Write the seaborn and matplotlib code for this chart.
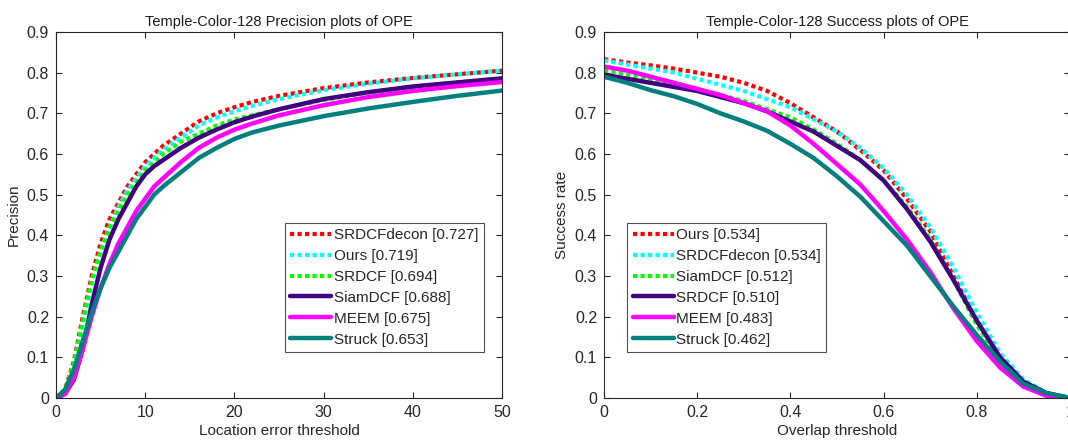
import numpy as np
import pandas as pd
import matplotlib
matplotlib.use("Agg")
import matplotlib.pyplot as plt
import seaborn as sns

# Precision plot (location error threshold, pixels)
prec_x = [0, 1, 2, 3, 4, 5, 6, 7, 8, 9, 10, 11, 12, 14, 16, 18, 20, 22, 25, 30, 35, 40, 45, 50]
prec_srdcfdecon = [0, 0.02, 0.09, 0.20, 0.30, 0.38, 0.44, 0.48, 0.52, 0.55, 0.58, 0.60, 0.62, 0.65, 0.68, 0.70, 0.715, 0.728, 0.743, 0.762, 0.776, 0.787, 0.796, 0.805]
prec_ours = [0, 0.02, 0.08, 0.18, 0.28, 0.36, 0.42, 0.47, 0.51, 0.54, 0.57, 0.59, 0.61, 0.64, 0.67, 0.69, 0.705, 0.718, 0.735, 0.757, 0.773, 0.786, 0.796, 0.805]
prec_srdcf = [0, 0.02, 0.085, 0.19, 0.29, 0.36, 0.42, 0.46, 0.50, 0.53, 0.56, 0.58, 0.60, 0.63, 0.65, 0.67, 0.685, 0.695, 0.71, 0.733, 0.751, 0.765, 0.776, 0.786]
prec_siamdcf = [0, 0.01, 0.045, 0.12, 0.23, 0.32, 0.39, 0.44, 0.48, 0.52, 0.55, 0.57, 0.585, 0.615, 0.64, 0.66, 0.678, 0.692, 0.71, 0.735, 0.752, 0.766, 0.776, 0.786]
prec_meem = [0, 0.01, 0.05, 0.12, 0.20, 0.27, 0.33, 0.38, 0.42, 0.46, 0.49, 0.52, 0.54, 0.58, 0.615, 0.64, 0.66, 0.675, 0.695, 0.72, 0.74, 0.755, 0.767, 0.777]
prec_struck = [0, 0.02, 0.07, 0.14, 0.21, 0.27, 0.32, 0.36, 0.40, 0.44, 0.47, 0.50, 0.52, 0.555, 0.59, 0.615, 0.637, 0.653, 0.67, 0.693, 0.712, 0.728, 0.743, 0.756]

# Success plot (overlap threshold)
succ_x = [0, 0.05, 0.1, 0.15, 0.2, 0.25, 0.3, 0.35, 0.4, 0.45, 0.5, 0.55, 0.6, 0.65, 0.7, 0.75, 0.8, 0.85, 0.9, 0.95, 1.0]
succ_ours = [0.833, 0.825, 0.818, 0.81, 0.80, 0.79, 0.775, 0.755, 0.725, 0.69, 0.655, 0.61, 0.56, 0.49, 0.41, 0.30, 0.19, 0.10, 0.04, 0.01, 0]
succ_srdcfdecon = [0.83, 0.82, 0.81, 0.80, 0.785, 0.77, 0.755, 0.735, 0.715, 0.685, 0.655, 0.615, 0.565, 0.50, 0.42, 0.32, 0.21, 0.11, 0.045, 0.012, 0]
succ_siamdcf = [0.805, 0.795, 0.785, 0.775, 0.76, 0.745, 0.73, 0.71, 0.69, 0.66, 0.625, 0.585, 0.535, 0.47, 0.39, 0.29, 0.18, 0.095, 0.038, 0.01, 0]
succ_srdcf = [0.795, 0.785, 0.775, 0.765, 0.755, 0.74, 0.725, 0.705, 0.68, 0.655, 0.62, 0.585, 0.535, 0.465, 0.385, 0.29, 0.19, 0.10, 0.04, 0.012, 0]
succ_meem = [0.815, 0.805, 0.79, 0.775, 0.76, 0.745, 0.725, 0.705, 0.67, 0.625, 0.575, 0.525, 0.46, 0.39, 0.31, 0.22, 0.14, 0.075, 0.028, 0.005, 0]
succ_struck = [0.79, 0.775, 0.757, 0.742, 0.723, 0.70, 0.68, 0.657, 0.625, 0.59, 0.545, 0.495, 0.435, 0.375, 0.30, 0.225, 0.155, 0.09, 0.035, 0.012, 0]

colors = {
    "red": "#ff0000", "cyan": "#00ffff", "green": "#00ff00",
    "purple": "#40007f", "magenta": "#ff00ff", "teal": "#007f7f",
}

left_series = [
    ("SRDCFdecon [0.727]", prec_srdcfdecon, "red", True),
    ("Ours [0.719]", prec_ours, "cyan", True),
    ("SRDCF [0.694]", prec_srdcf, "green", True),
    ("SiamDCF [0.688]", prec_siamdcf, "purple", False),
    ("MEEM [0.675]", prec_meem, "magenta", False),
    ("Struck [0.653]", prec_struck, "teal", False),
]
right_series = [
    ("Ours [0.534]", succ_ours, "red", True),
    ("SRDCFdecon [0.534]", succ_srdcfdecon, "cyan", True),
    ("SiamDCF [0.512]", succ_siamdcf, "green", True),
    ("SRDCF [0.510]", succ_srdcf, "purple", False),
    ("MEEM [0.483]", succ_meem, "magenta", False),
    ("Struck [0.462]", succ_struck, "teal", False),
]

sns.set_style("white")
plt.rcParams["font.family"] = ["Liberation Sans", "DejaVu Sans"]

W, H = 1068, 441
fig = plt.figure(figsize=(W / 100, H / 100), dpi=100)
ax1 = fig.add_axes([56 / W, 43 / H, 446 / W, 366 / H])
ax2 = fig.add_axes([604 / W, 43 / H, 466 / W, 366 / H])


def draw(ax, x, series, title, xlabel, ylabel, xticks, xlabels, legend_x):
    for label, y, c, dotted in series:
        sns.lineplot(x=x, y=y, ax=ax, color=colors[c], label=label,
                     linewidth=3 if dotted else 3.2,
                     linestyle=(0, (1, 0.8)) if dotted else "-")
    ax.set_xlim(x[0], x[-1])
    ax.set_ylim(0, 0.9)
    ax.set_xticks(xticks)
    ax.set_xticklabels(xlabels)
    ax.set_yticks(np.arange(0, 0.91, 0.1))
    ax.set_yticklabels(["0"] + [f"{v:.1f}" for v in np.arange(0.1, 0.91, 0.1)])
    ax.tick_params(direction="in", length=4, width=0.8, color="#262626",
                   labelsize=11.5, labelcolor="#262626", top=True, right=True,
                   bottom=True, left=True, pad=5)
    for s in ax.spines.values():
        s.set_color("#262626")
        s.set_linewidth(0.8)
    ax.set_title(title, fontsize=10.5, color="#1a1a1a", pad=4)
    ax.set_xlabel(xlabel, fontsize=11, color="#262626", labelpad=3)
    ax.set_ylabel(ylabel, fontsize=11, color="#262626", labelpad=4)
    leg = ax.legend(loc="lower left", bbox_to_anchor=(legend_x, 0.126),
                    fontsize=11, handlelength=2.7, handletextpad=0.15,
                    labelspacing=0.45, borderpad=0.35, borderaxespad=0,
                    frameon=True, fancybox=False)
    leg.get_frame().set_edgecolor("#262626")
    leg.get_frame().set_linewidth(0.8)


draw(ax1, prec_x, left_series, "Temple-Color-128 Precision plots of OPE",
     "Location error threshold", "Precision",
     [0, 10, 20, 30, 40, 50], ["0", "10", "20", "30", "40", "50"], 0.513)
draw(ax2, succ_x, right_series, "Temple-Color-128 Success plots of OPE",
     "Overlap threshold", "Success rate",
     [0, 0.2, 0.4, 0.6, 0.8, 1.0], ["0", "0.2", "0.4", "0.6", "0.8", "1"], 0.05)

fig.savefig("out.png", dpi=100)
